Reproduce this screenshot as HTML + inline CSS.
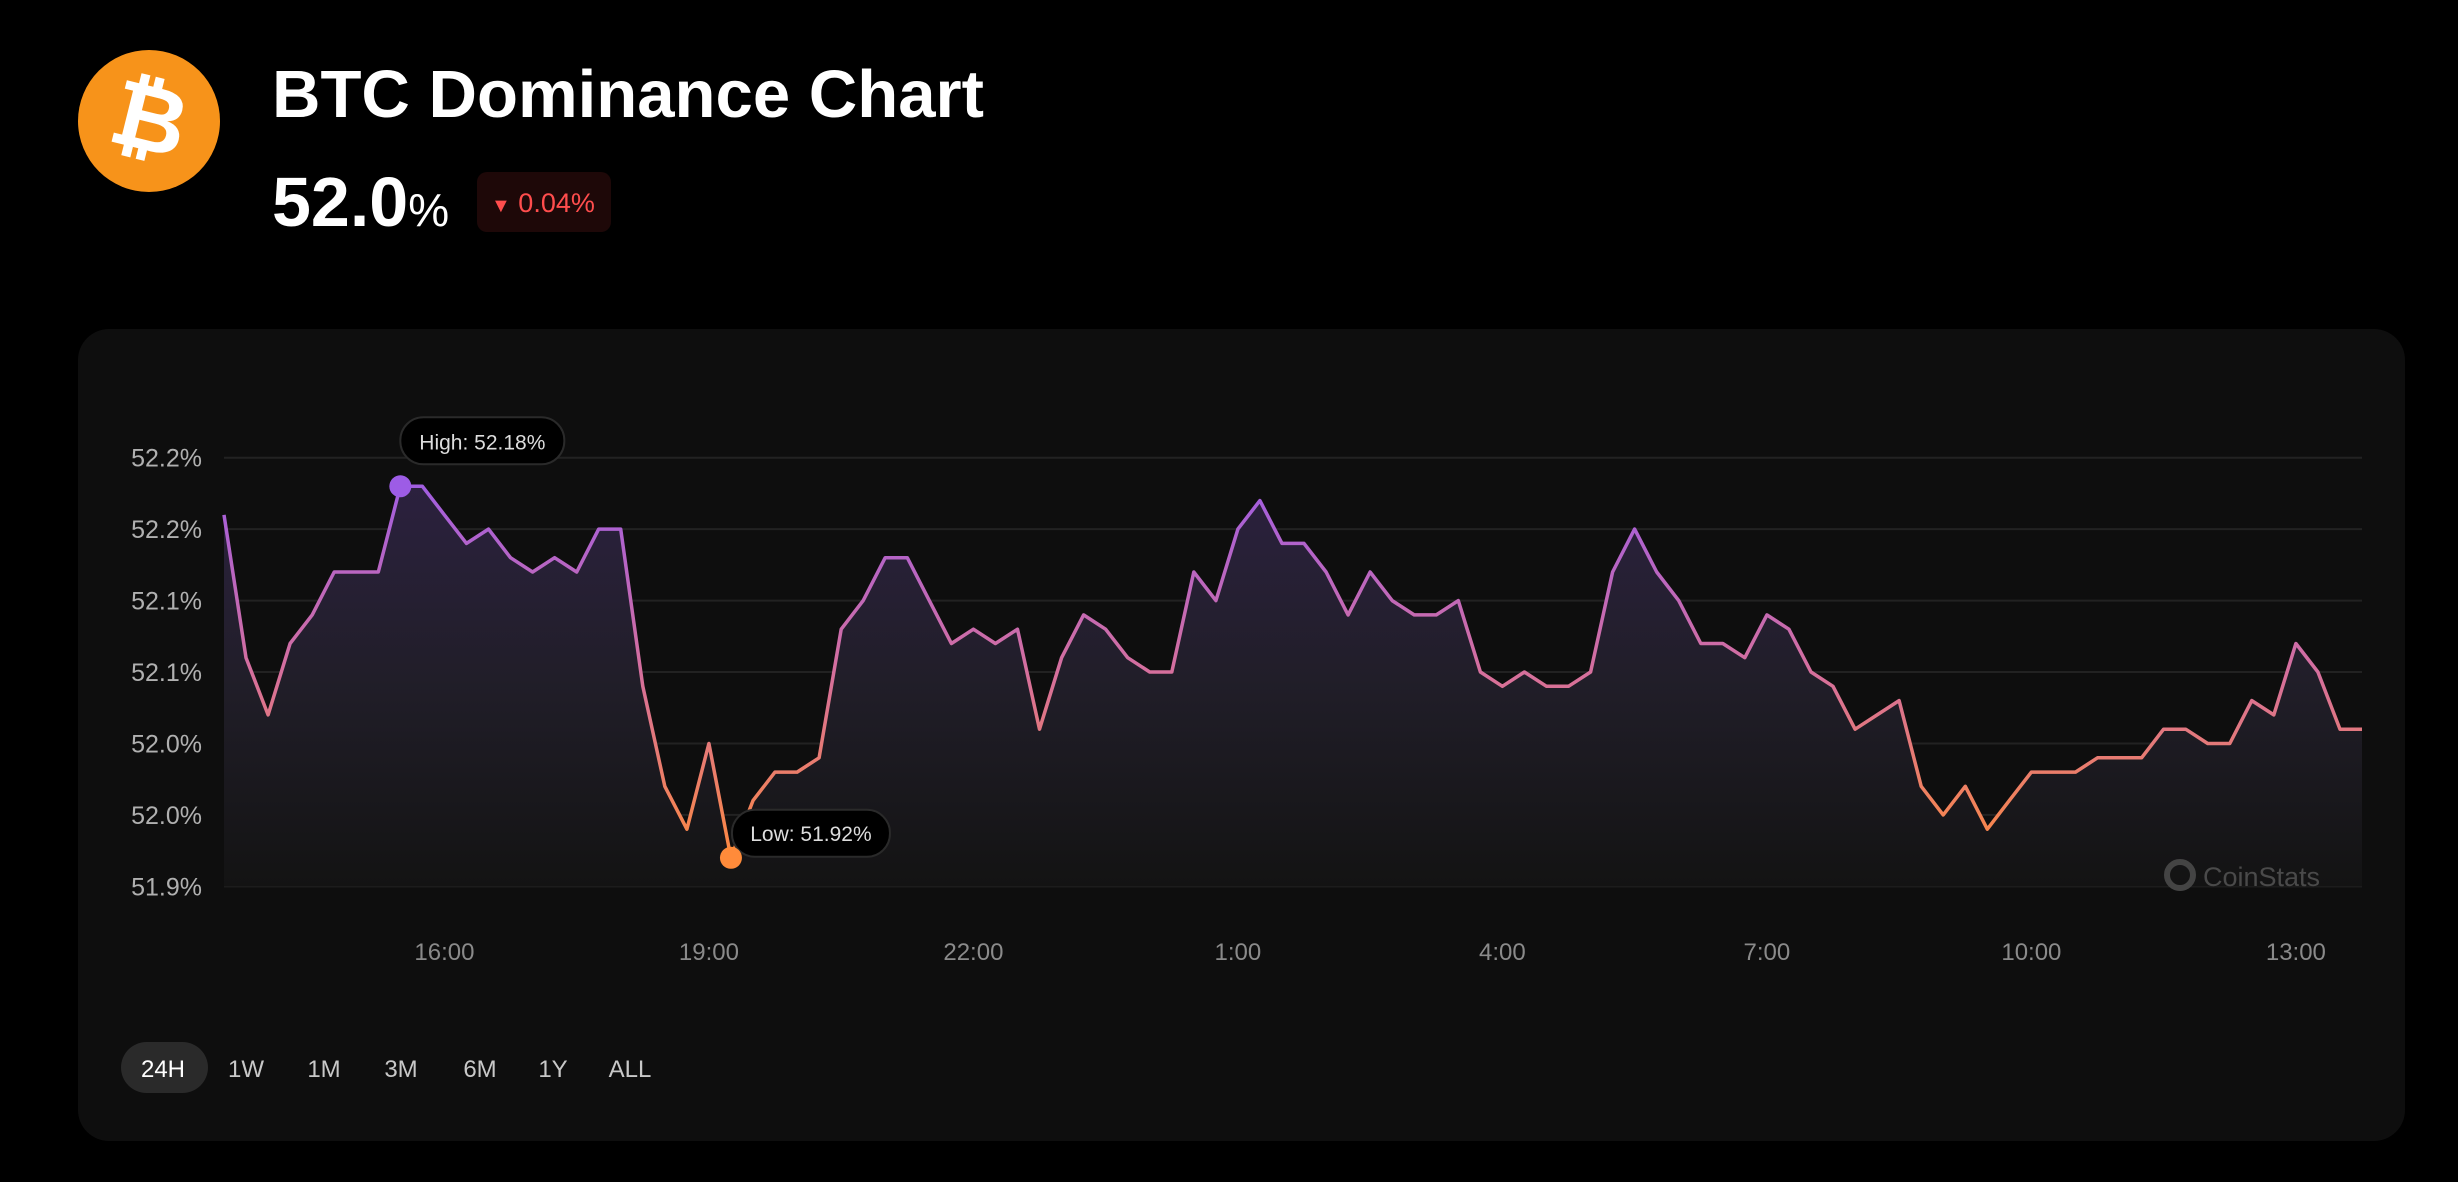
<!DOCTYPE html>
<html><head><meta charset="utf-8"><style>
html,body{margin:0;padding:0;background:#000;}
svg{display:block;font-family:"Liberation Sans",sans-serif;}
</style></head><body>
<svg id="root" width="2458" height="1182" viewBox="0 0 2458 1182">
<defs>
<linearGradient id="lineGrad" gradientUnits="userSpaceOnUse" x1="0" y1="470" x2="0" y2="870">
<stop offset="0" stop-color="#9d5ce6"/><stop offset="0.5" stop-color="#d56f9e"/><stop offset="1" stop-color="#ff8b3a"/>
</linearGradient>
<linearGradient id="areaGrad" gradientUnits="userSpaceOnUse" x1="0" y1="470" x2="0" y2="886">
<stop offset="0" stop-color="#2c2140"/><stop offset="0.5" stop-color="#211e29"/><stop offset="1" stop-color="#131313"/>
</linearGradient>
</defs>
<g>
<circle cx="149" cy="121" r="71" fill="#f7931a"/>
<text x="149" y="150" text-anchor="middle" font-size="92" font-weight="bold" fill="#fff" transform="rotate(14 149 121)">₿</text>
<text x="272" y="117" font-size="67" font-weight="bold" fill="#fff" textLength="712" lengthAdjust="spacingAndGlyphs">BTC Dominance Chart</text>
<text x="272" y="226" font-size="70" font-weight="bold" fill="#fff">52.0<tspan font-size="46" font-weight="normal">%</tspan></text>
<rect x="477" y="172" width="134" height="60" rx="10" fill="#1e0808"/>
<text x="491" y="212" font-size="27" fill="#ff4d4d"><tspan font-size="20">▼</tspan> 0.04%</text>
</g>
<rect x="78" y="329" width="2327" height="812" rx="31" fill="#0e0e0e"/>
<g id="grid"></g>
<g id="ylabels"></g>
<g id="xlabels"></g>
<path id="area" fill="url(#areaGrad)"/>
<path id="line" fill="none" stroke="url(#lineGrad)" stroke-width="3.5" stroke-linejoin="round"/>
<g id="marks"></g>
<g>
<circle cx="2180" cy="875" r="13" fill="none" stroke="#444" stroke-width="6"/>
<text x="2203" y="886" font-size="27" fill="#4a4a4a">CoinStats</text>
</g>
<g id="buttons"></g>
</svg>
<script>
const values = [52.16,52.06,52.02,52.07,52.09,52.12,52.12,52.12,52.18,52.18,52.16,52.14,52.15,52.13,52.12,52.13,52.12,52.15,52.15,52.04,51.97,51.94,52.00,51.92,51.96,51.98,51.98,51.99,52.08,52.10,52.13,52.13,
52.10,52.07,52.08,52.07,52.08,52.01,52.06,52.09,52.08,52.06,52.05,52.05,52.12,52.10,52.15,52.17,52.14,52.14,52.12,52.09,52.12,52.10,52.09,52.09,52.10,52.05,52.04,52.05,52.04,52.04,52.05,52.12,52.15,52.12,
52.10,52.07,52.07,52.06,52.09,52.08,52.05,52.04,52.01,52.02,52.03,51.97,51.95,51.97,51.94,51.96,51.98,51.98,51.98,51.99,51.99,51.99,52.01,52.01,52.00,52.00,52.03,52.02,52.07,52.05,52.01,52.01];
const yTicks = [52.2,52.15,52.1,52.05,52.0,51.95,51.9];
const yTickLabels = ["52.2%","52.2%","52.1%","52.1%","52.0%","52.0%","51.9%"];
const xTickIndex = [10,22,34,46,58,70,82,94];
const xTickLabels = ["16:00","19:00","22:00","1:00","4:00","7:00","10:00","13:00"];
const ranges = ["24H","1W","1M","3M","6M","1Y","ALL"];

const NS="http://www.w3.org/2000/svg";
const X0=224, X1=2362;
function xs(i){return X0+i*(X1-X0)/(values.length-1);}
function ys(v){return 457.7+(52.2-v)*1428.9;}
function mk(tag,attrs,parent){const e=document.createElementNS(NS,tag);for(const k in attrs)e.setAttribute(k,attrs[k]);parent.appendChild(e);return e;}

const grid=document.getElementById('grid'), yl=document.getElementById('ylabels');
yTicks.forEach((t,i)=>{
  const l=mk('line',{x1:X0,x2:X1,y1:ys(t),y2:ys(t),stroke:'#222','stroke-width':2},grid);
  
  
  const tx=mk('text',{x:202,y:ys(t)+9,'text-anchor':'end','font-size':25,fill:'#b0b0b0'},yl);
  tx.textContent=yTickLabels[i];
  
  
});
const xl=document.getElementById('xlabels');
xTickIndex.forEach((idx,i)=>{
  const tx=mk('text',{x:xs(idx),y:960,'text-anchor':'middle','font-size':24,fill:'#8a8a8a'},xl);
  tx.textContent=xTickLabels[i];
  
  
});
let d='';
values.forEach((v,i)=>{d+=(i?'L':'M')+xs(i).toFixed(1)+' '+ys(v).toFixed(1);});
document.getElementById('line').setAttribute('d',d);
document.getElementById('area').setAttribute('d',d+'L'+X1+' '+ys(51.9)+'L'+X0+' '+ys(51.9)+'Z');

const marks=document.getElementById('marks');
let hi=0,lo=0;values.forEach((v,i)=>{if(v>values[hi])hi=i;if(v<values[lo])lo=i;});
const hx=xs(hi),hy=ys(values[hi]),lx=xs(lo),ly=ys(values[lo]);
const hb=mk('rect',{x:hx,y:hy-69,width:164,height:47,rx:23,fill:'#000',stroke:'#2a2a2a','stroke-width':2},marks);


const ht=mk('text',{x:hx+82,y:hy-37,'text-anchor':'middle','font-size':21,fill:'#ddd'},marks);
ht.textContent='High: '+values[hi].toFixed(2)+'%';


const hd=mk('circle',{cx:hx,cy:hy,r:11,fill:'#9d5ce6'},marks);


const lb=mk('rect',{x:lx+1,y:ly-48,width:158,height:47,rx:23,fill:'#000',stroke:'#2a2a2a','stroke-width':2},marks);


const lt=mk('text',{x:lx+80,y:ly-17,'text-anchor':'middle','font-size':21,fill:'#ddd'},marks);
lt.textContent='Low: '+values[lo].toFixed(2)+'%';


const ld=mk('circle',{cx:lx,cy:ly,r:11,fill:'#ff8b3a'},marks);



const bx=[163,246,324,401,480,553,630];
const bg=document.getElementById('buttons');
const pill=mk('rect',{x:121,y:1042,width:87,height:51,rx:25.5,fill:'#2a2a2a'},bg);


ranges.forEach((r,i)=>{
  const t=mk('text',{x:bx[i],y:1077,'text-anchor':'middle','font-size':24,fill:i===0?'#fff':'#c8c8c8'},bg);
  t.textContent=r;
  
  
});
</script>
</body></html>
